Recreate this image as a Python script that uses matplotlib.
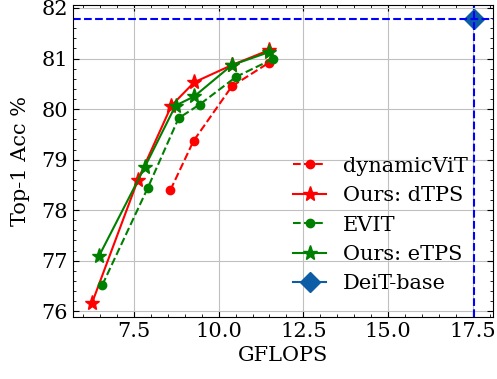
import matplotlib
matplotlib.use('Agg')
import matplotlib.pyplot as plt
from matplotlib.ticker import MultipleLocator

# values
dyn_x = [8.58, 9.26, 10.39, 11.49]
dyn_y = [78.40, 79.37, 80.45, 80.92]

dtps_x = [6.27, 7.62, 8.61, 9.28, 10.39, 11.50]
dtps_y = [76.17, 78.60, 80.07, 80.53, 80.87, 81.17]

evit_x = [6.57, 7.91, 8.82, 9.44, 10.52, 11.60]
evit_y = [76.52, 78.44, 79.82, 80.09, 80.64, 80.99]

etps_x = [6.47, 7.82, 8.73, 9.28, 10.39, 11.50]
etps_y = [77.09, 78.85, 80.07, 80.25, 80.87, 81.13]

deit_x = 17.53
deit_y = 81.78

plt.rcParams['font.family'] = 'DejaVu Serif'
plt.rcParams['font.size'] = 15
plt.rcParams['xtick.direction'] = 'in'
plt.rcParams['ytick.direction'] = 'in'
plt.rcParams['xtick.top'] = True
plt.rcParams['ytick.right'] = True

fig = plt.figure(figsize=(4.97, 3.79), dpi=100)
ax = fig.add_axes([0.147, 0.164, 0.845, 0.823])

ax.plot(dyn_x, dyn_y, 'r--', marker='o', ms=6, lw=1.5, label='dynamicViT')
ax.plot(dtps_x, dtps_y, 'r-', marker='*', ms=11, lw=1.5, label='Ours: dTPS')
ax.plot(evit_x, evit_y, 'g--', marker='o', ms=6, lw=1.5, label='EVIT')
ax.plot(etps_x, etps_y, 'g-', marker='*', ms=11, lw=1.5, label='Ours: eTPS')
ax.plot(deit_x, deit_y, marker='D', ms=10, color='#0C5DA5', lw=1.5, label='DeiT-base')
ax.axhline(deit_y, color='b', ls='--', lw=1.5)
ax.axvline(deit_x, color='b', ls='--', lw=1.5)

ax.xaxis.set_major_locator(MultipleLocator(2.5))
ax.xaxis.set_minor_locator(MultipleLocator(0.5))
ax.yaxis.set_minor_locator(MultipleLocator(0.2))
ax.tick_params(which='major', length=4)
ax.tick_params(which='minor', length=2)
ax.grid(True, color='#c0c0c0', lw=0.8)

ax.set_xlabel('GFLOPS')
ax.set_ylabel('Top-1 Acc %', labelpad=8)
ax.legend(loc='lower right', bbox_to_anchor=(0.985, 0.015), frameon=False,
          handlelength=1.6, handletextpad=0.8, labelspacing=0.5)

fig.savefig('out.png', dpi=100)
